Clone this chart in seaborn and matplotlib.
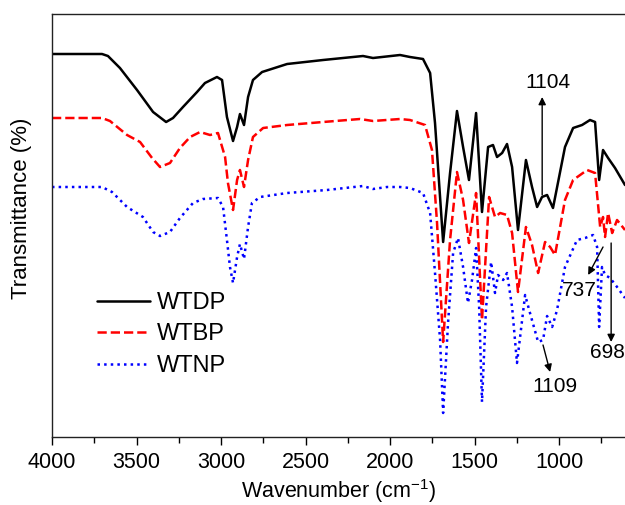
import matplotlib
matplotlib.use("Agg")
import matplotlib.pyplot as plt
import seaborn as sns
import pandas as pd
from matplotlib.ticker import MultipleLocator

# --- data (wavenumber in cm-1, transmittance in a.u.) ---
wn_wtdp = [4000, 3704, 3669, 3598, 3497, 3402, 3325, 3284, 3225, 3142,
           3095, 3024, 2994, 2965, 2929, 2905, 2888, 2864, 2840, 2811,
           2757, 2609, 2396, 2160, 2101, 1941, 1882, 1805, 1763, 1734,
           1686, 1645, 1604, 1568, 1533, 1491, 1456, 1420, 1391, 1367,
           1337, 1308, 1278, 1243, 1196, 1160, 1130, 1101, 1071, 1036,
           965, 917, 864, 817, 787, 763, 740, 710, 669, 610]
t_wtdp = [383, 383, 381, 369, 347, 325, 315, 319, 330, 345,
          354, 360, 357, 320, 296, 310, 323, 312, 340, 357,
          365, 373, 377, 381, 379, 382, 380, 378, 364, 314,
          195, 264, 326, 290, 257, 324, 225, 290, 292, 280,
          284, 293, 270, 207, 277, 250, 230, 240, 242, 229,
          290, 309, 312, 317, 315, 257, 287, 279, 269, 252]

wn_wtbp = [4000, 3704, 3657, 3556, 3479, 3408, 3361, 3302, 3243, 3183,
           3124, 3065, 3018, 2976, 2959, 2929, 2905, 2888, 2864, 2840,
           2811, 2751, 2609, 2396, 2178, 2101, 1941, 1882, 1793, 1752,
           1722, 1686, 1645, 1604, 1568, 1533, 1491, 1456, 1414, 1379,
           1349, 1308, 1278, 1243, 1196, 1160, 1124, 1083, 1053, 1024,
           965, 917, 834, 787, 757, 740, 728, 710, 686, 657, 610]
t_wtbp = [319, 319, 316, 302, 295, 279, 270, 274, 289, 300,
          305, 302, 304, 280, 254, 227, 257, 267, 250, 277,
          300, 309, 312, 315, 318, 316, 318, 317, 312, 287,
          214, 95, 197, 265, 237, 194, 244, 117, 240, 220,
          224, 222, 204, 145, 210, 192, 164, 195, 190, 182,
          237, 257, 267, 264, 210, 220, 200, 224, 204, 217, 207]

wn_wtnp = [4000, 3704, 3645, 3556, 3462, 3402, 3361, 3302, 3243, 3166,
           3107, 3018, 2988, 2965, 2947, 2929, 2905, 2888, 2864, 2840,
           2817, 2769, 2609, 2373, 2160, 2101, 2018, 1941, 1882, 1805,
           1763, 1734, 1704, 1686, 1657, 1627, 1598, 1568, 1539, 1515,
           1491, 1473, 1456, 1432, 1402, 1379, 1361, 1331, 1308, 1278,
           1249, 1201, 1172, 1124, 1095, 1071, 1041, 1012, 965, 894,
           846, 799, 775, 763, 746, 728, 698, 657, 610]
t_wtnp = [250, 250, 245, 230, 220, 205, 201, 205, 219, 234,
          238, 239, 230, 197, 170, 154, 180, 193, 178, 210,
          234, 240, 244, 247, 251, 248, 250, 250, 249, 244,
          224, 164, 97, 24, 114, 184, 199, 170, 134, 157,
          189, 130, 35, 130, 175, 144, 162, 157, 164, 130,
          74, 142, 124, 95, 97, 121, 110, 127, 170, 197,
          199, 202, 190, 110, 170, 162, 159, 150, 139]

series = [
    ("WTDP", wn_wtdp, t_wtdp, "black", "-"),
    ("WTBP", wn_wtbp, t_wtbp, "#ff0000", "--"),
    ("WTNP", wn_wtnp, t_wtnp, "#0000ff", ":"),
]

# peak labels: (text, arrow tail, arrow head, text position) in data coords
peak_notes = [
    ("1104", (1100, 242), (1100, 340), (1065, 354)),
    ("737", (740, 190), (828, 162), (882, 147)),
    ("698", (692, 194), (692, 95), (716, 84)),
    ("1109", (1095, 92), (1053, 65), (1024, 50)),
]

sns.set_style("ticks")
plt.rcParams['font.family'] = ['Liberation Sans', 'DejaVu Sans']
plt.rcParams['mathtext.fontset'] = 'custom'
plt.rcParams['mathtext.rm'] = 'Liberation Sans'
plt.rcParams['text.color'] = 'black'
plt.rcParams['axes.labelcolor'] = 'black'
plt.rcParams['xtick.color'] = 'black'
plt.rcParams['xtick.labelcolor'] = 'black'

fig = plt.figure(figsize=(6.25, 5.05), dpi=100)
ax = fig.add_axes([52 / 625, 68 / 505, 573 / 625, 423 / 505])

for name, wn, t, col, ls in series:
    df = pd.DataFrame({'wn': wn, 't': t})
    sns.lineplot(data=df, x='wn', y='t', ax=ax, sort=False, estimator=None,
                 color=col, linestyle=ls, linewidth=1.8, label=name)

for txt, tail, head, pos in peak_notes:
    ax.annotate("", xy=head, xytext=tail,
                arrowprops=dict(arrowstyle='-|>', color='black', lw=1.0,
                                mutation_scale=11, shrinkA=0, shrinkB=0))
    ax.text(pos[0], pos[1], txt, ha='center', va='center', fontsize=15,
            color='black')

ax.set_xlim(4000, 610)
ax.set_ylim(0, 423)
ax.xaxis.set_major_locator(MultipleLocator(500))
ax.xaxis.set_minor_locator(MultipleLocator(250))
ax.tick_params(axis='x', which='major', direction='out', length=6, width=1,
               labelsize=15.5, pad=5, colors='black')
ax.tick_params(axis='x', which='minor', direction='out', length=4, width=1,
               colors='black')
ax.set_yticks([])
ax.spines['right'].set_visible(False)
for s in ['left', 'bottom', 'top']:
    ax.spines[s].set_linewidth(1.0)
    ax.spines[s].set_color('#222222')

ax.set_xlabel("Wavenumber (cm$^{-1}$)", fontsize=15.5, labelpad=3)
ax.set_ylabel("Transmittance (%)", fontsize=16)
ax.yaxis.set_label_coords(-0.035, 0.54)

leg = ax.legend(loc='upper left', bbox_to_anchor=(0.078, 0.343), frameon=False,
                fontsize=17, handlelength=2.25, handletextpad=0.3,
                labelspacing=0.4, borderpad=0, borderaxespad=0)
for t in leg.get_texts():
    t.set_color('black')

fig.savefig("out.png", dpi=100)
